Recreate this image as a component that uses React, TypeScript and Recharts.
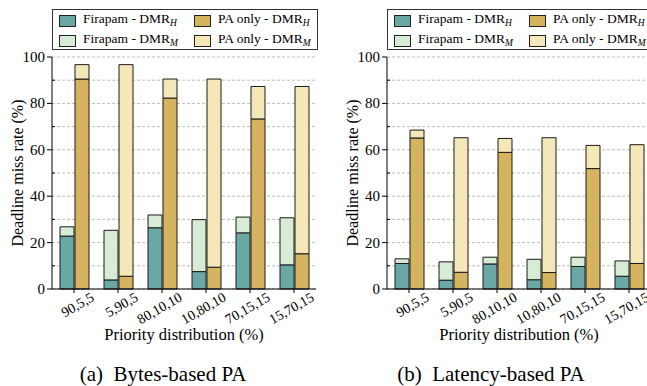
import React from 'react';
import { BarChart, Bar, XAxis, YAxis, CartesianGrid, Label } from 'recharts';

const categories = ['90,5,5', '5,90,5', '80,10,10', '10,80,10', '70,15,15', '15,70,15'];

// (a) Bytes-based PA
const bytesFirapamH = [22.8, 3.9, 26.4, 7.5, 24.2, 10.4];
const bytesFirapamM = [4.0, 21.4, 5.5, 22.4, 6.8, 20.3];
const bytesPaH = [90.5, 5.5, 82.3, 9.4, 73.3, 15.2];
const bytesPaM = [6.2, 91.2, 8.2, 81.1, 14.0, 72.1];

// (b) Latency-based PA
const latFirapamH = [11.0, 3.8, 10.8, 4.0, 9.7, 5.5];
const latFirapamM = [2.0, 7.9, 2.9, 8.8, 4.0, 6.6];
const latPaH = [65.1, 7.2, 58.9, 7.1, 51.9, 11.0];
const latPaM = [3.4, 58.0, 6.0, 58.1, 10.0, 51.2];

const yTicks = [0, 10, 20, 30, 40, 50, 60, 70, 80, 90, 100];

const COLORS = {
  fH: '#6aa8a5',
  fM: '#d6ecd5',
  pH: '#d6b45f',
  pM: '#f5e8b8',
};

const FONT = "'Liberation Serif', 'Times New Roman', serif";
const TXT = { fontFamily: FONT };

function build(fH: number[], fM: number[], pH: number[], pM: number[]) {
  return categories.map((c, i) => ({ cat: c, fH: fH[i], fM: fM[i], pH: pH[i], pM: pM[i] }));
}

const YTick = (props: any) => {
  const { x, y, payload } = props;
  const ax = x + 7;
  const major = payload.value % 20 === 0;
  return (
    <g>
      {major ? (
        <line x1={ax - 5} x2={ax} y1={y} y2={y} stroke="#000" />
      ) : (
        <line x1={ax} x2={ax + 3} y1={y} y2={y} stroke="#000" />
      )}
      {major && (
        <text x={x} y={y} dy={5} textAnchor="end" fontSize={15} fill="#000" style={TXT}>
          {payload.value}
        </text>
      )}
    </g>
  );
};

const XTick = (props: any) => {
  const { x, y, payload } = props;
  const axisY = y - 6;
  return (
    <g>
      <line x1={x} x2={x} y1={axisY} y2={axisY + 4} stroke="#000" />
      <text
        x={0}
        y={0}
        transform={`translate(${x + 21},${y + 5}) rotate(-30)`}
        textAnchor="end"
        fontSize={14}
        fill="#000"
        style={TXT}
      >
        {payload.value}
      </text>
    </g>
  );
};

const Sw = ({ color }: { color: string }) => (
  <span
    style={{
      display: 'inline-block',
      width: 15,
      height: 10,
      background: color,
      border: '1px solid #222',
      verticalAlign: 'middle',
    }}
  />
);

const LegendItem = ({ color, name, sub, left, top }: any) => (
  <div style={{ position: 'absolute', left, top, height: 16, display: 'flex', alignItems: 'center', whiteSpace: 'nowrap' }}>
    <Sw color={color} />
    <span style={{ marginLeft: 7, fontSize: 13.5, lineHeight: '16px' }}>
      {name} - DMR
      <sub style={{ fontStyle: 'italic', fontSize: 9.5, verticalAlign: '-3px' }}>{sub}</sub>
    </span>
  </div>
);

function Panel({ data, left, caption, captionCenter }: any) {
  return (
    <div style={{ position: 'absolute', left, top: 0, width: 330, height: 386 }}>
      <BarChart
        width={330}
        height={386}
        data={data}
        margin={{ top: 57, right: 14, bottom: 47, left: 12 }}
        barSize={14}
        barGap={1}
        style={TXT}
      >
        <CartesianGrid vertical={false} stroke="#bdbdbd" strokeDasharray="3 2" />
        <XAxis
          dataKey="cat"
          height={50}
          interval={0}
          tickSize={4}
          tickMargin={2}
          tickLine={false}
          axisLine={{ stroke: '#000' }}
          tick={(p: any) => <XTick {...p} />}
        >
          <Label
            content={(p: any) => {
              const vb = p.viewBox;
              return (
                <text
                  x={vb.x + vb.width / 2}
                  y={vb.y + 51}
                  textAnchor="middle"
                  fontSize={16.5}
                  fill="#000"
                  style={TXT}
                >
                  Priority distribution (%)
                </text>
              );
            }}
          />
        </XAxis>
        <XAxis
          xAxisId="top"
          orientation="top"
          dataKey="cat"
          height={0}
          tick={false}
          tickLine={false}
          axisLine={{ stroke: '#444', strokeWidth: 1.2 }}
        />
        <YAxis
          domain={[0, 100]}
          ticks={yTicks}
          interval={0}
          width={40}
          tickSize={5}
          tickMargin={2}
          tickLine={false}
          axisLine={{ stroke: '#000' }}
          tick={(p: any) => <YTick {...p} />}
        >
          <Label
            content={(p: any) => {
              const vb = p.viewBox;
              const cx = vb.x + 5;
              const cy = vb.y + vb.height / 2;
              return (
                <text
                  x={cx}
                  y={cy}
                  transform={`rotate(-90, ${cx}, ${cy})`}
                  textAnchor="middle"
                  dominantBaseline="central"
                  fontSize={16}
                  fill="#000"
                  style={TXT}
                >
                  Deadline miss rate (%)
                </text>
              );
            }}
          />
        </YAxis>
        <YAxis
          yAxisId="r"
          orientation="right"
          domain={[0, 100]}
          width={0}
          tick={false}
          tickLine={false}
          axisLine={{ stroke: '#444', strokeWidth: 1.2 }}
        />
        <Bar dataKey="fH" stackId="f" fill={COLORS.fH} stroke="#1a1a1a" strokeWidth={1} isAnimationActive={false} />
        <Bar dataKey="fM" stackId="f" fill={COLORS.fM} stroke="#1a1a1a" strokeWidth={1} isAnimationActive={false} />
        <Bar dataKey="pH" stackId="p" fill={COLORS.pH} stroke="#1a1a1a" strokeWidth={1} isAnimationActive={false} />
        <Bar dataKey="pM" stackId="p" fill={COLORS.pM} stroke="#1a1a1a" strokeWidth={1} isAnimationActive={false} />
      </BarChart>
      <div
        style={{
          position: 'absolute',
          left: 52,
          top: 9,
          width: 264,
          height: 39,
          border: '1px solid #333',
          background: '#fff',
        }}
      >
        <LegendItem color={COLORS.fH} name="Firapam" sub="H" left={6} top={3} />
        <LegendItem color={COLORS.pH} name="PA only" sub="H" left={141} top={3} />
        <LegendItem color={COLORS.fM} name="Firapam" sub="M" left={6} top={23} />
        <LegendItem color={COLORS.pM} name="PA only" sub="M" left={141} top={23} />
      </div>
      <div
        style={{
          position: 'absolute',
          left: captionCenter - 130,
          width: 260,
          top: 362,
          textAlign: 'center',
          fontSize: 21,
          lineHeight: '24px',
          whiteSpace: 'pre',
        }}
      >
        {caption}
      </div>
    </div>
  );
}

export default function App() {
  return (
    <div
      style={{
        position: 'absolute',
        left: 0,
        top: 0,
        width: 647,
        height: 386,
        overflow: 'hidden',
        background: '#fff',
        fontFamily: FONT,
        color: '#000',
      }}
    >
      <Panel
        data={build(bytesFirapamH, bytesFirapamM, bytesPaH, bytesPaM)}
        left={0}
        caption="(a)  Bytes-based PA"
        captionCenter={163}
      />
      <Panel
        data={build(latFirapamH, latFirapamM, latPaH, latPaM)}
        left={335}
        caption="(b)  Latency-based PA"
        captionCenter={156}
      />
    </div>
  );
}
